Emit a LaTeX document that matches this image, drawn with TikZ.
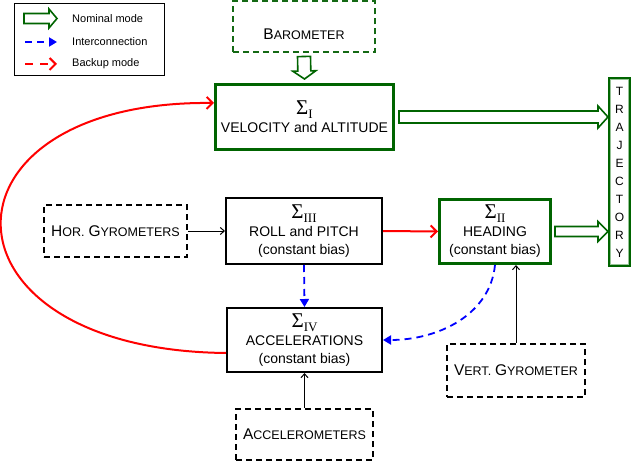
\documentclass[tikz,border=0pt]{standalone}
\usepackage{fontspec}
\setmainfont{Liberation Sans}
\newfontfamily\sigfont{Liberation Serif}
\usepackage{tikz}
\usetikzlibrary{calc,arrows.meta}

\definecolor{nomColor}{RGB}{0,100,0}
\definecolor{baroColor}{RGB}{20,105,20}
\definecolor{trajColor}{RGB}{150,195,150}

\newcommand{\sigmasub}[1]{{\sigfont\fontsize{21}{21}\selectfont Σ\raisebox{-4pt}{\fontsize{13}{13}\selectfont #1}}}
\newcommand{\capword}[2]{{\fontsize{15.5}{18}\selectfont #1}{\fontsize{12.5}{18}\selectfont #2}}
% hollow arrow: start, end, shaft half width, head half width, head length
\newcommand{\hollowarrow}[5]{%
  \path ($(#2)!#5!(#1)$) coordinate (hb);
  \draw[nomline] ($(#1)!#3!90:(#2)$) -- ($(hb)!#3!90:(#2)$) -- ($(hb)!#4!90:(#2)$) -- (#2)
    -- ($(hb)!#4!-90:(#2)$) -- ($(hb)!#3!-90:(#2)$) -- ($(#1)!#3!-90:(#2)$) -- cycle;}

\begin{document}
\begin{tikzpicture}[x=1pt,y=-1pt,
  box/.style={draw,rectangle,inner sep=0pt,align=center,font=\fontsize{14}{18}\selectfont},
  nombox/.style={box,draw=nomColor,line width=3pt},
  estbox/.style={box,line width=2pt},
  sensbox/.style={box,line width=1.8pt,dash pattern=on 6pt off 4pt},
  nomline/.style={draw=nomColor,line width=1.6pt,fill=white,line join=miter},
  inter/.style={blue,line width=1.8pt,dash pattern=on 7pt off 5pt,-{Triangle[length=8pt,width=9pt]}},
  backup/.style={red,line width=2pt,-{Straight Barb[length=6pt,width=12pt]}},
  meas/.style={black,line width=1pt,-{Straight Barb[length=4pt,width=7pt]}},
  legtext/.style={anchor=west,inner sep=0pt,font=\fontsize{11}{13}\selectfont}]
\useasboundingbox (0,0) rectangle (632,468);

% legend
\node[draw,line width=1pt,minimum width=150,minimum height=72,inner sep=0pt] (legend) at (89.5,39.5) {};
\node[legtext] (lnom) at (72,18.5) {Nominal mode};
\node[legtext] (lint) at (72,42) {Interconnection};
\node[legtext] (lbak) at (72,64) {Backup mode};
\coordinate (la1) at (24,18.5); \coordinate (lb1) at (57,18.5);
\coordinate (la2) at (25,42);   \coordinate (lb2) at (57,42);
\coordinate (la3) at (25,64);   \coordinate (lb3) at (57,64);
\hollowarrow{la1}{lb1}{5pt}{9.5pt}{8pt}
\draw[inter] (la2) -- (lb2);
\draw[backup,dash pattern=on 8pt off 7pt] (la3) -- (lb3);

% sensors
\node[sensbox,draw=baroColor,line width=2pt,minimum width=142,minimum height=51,text height=26pt,text depth=0pt] (baro) at (304,27) {\capword{B}{AROMETER}};
\node[sensbox,minimum width=143,minimum height=52] (hgyro) at (115.5,231) {\capword{H}{OR.} \capword{G}{YROMETERS}};
\node[sensbox,minimum width=138,minimum height=53] (vgyro) at (516,370.5) {\capword{V}{ERT.} \capword{G}{YROMETER}};
\node[sensbox,minimum width=137,minimum height=51] (accel) at (304.5,434.5) {\capword{A}{CCELEROMETERS}};

% estimators
\node[nombox,minimum width=178,minimum height=65] (sI) at (304.5,117) {\sigmasub{I}\\VELOCITY and ALTITUDE};
\node[estbox,minimum width=156,minimum height=66] (sIII) at (304,231) {\sigmasub{III}\\ROLL and PITCH\\(constant bias)};
\node[estbox,minimum width=155,minimum height=64] (sIV) at (304.5,340) {\sigmasub{IV}\\ACCELERATIONS\\(constant bias)};
\node[nombox,minimum width=111,minimum height=64] (sII) at (495,231.5) {\sigmasub{II}\\HEADING\\(constant bias)};
\node[draw=nomColor,line width=2pt,minimum width=21,minimum height=188,inner sep=0pt,
  align=center,font=\fontsize{12}{18}\selectfont] (traj) at (619.5,172) {T\\R\\A\\J\\E\\C\\T\\O\\R\\Y};
\draw[trajColor,line width=1pt] ([shift={(2.5pt,-2.5pt)}]traj.north west) rectangle ([shift={(-2.5pt,2.5pt)}]traj.south east);

% nominal mode
\coordinate (b0) at ([yshift=-3pt]baro.south);
\coordinate (b1) at ([yshift=4pt]sI.north);
\hollowarrow{b0}{b1}{6.5pt}{11.5pt}{8pt}
\coordinate (s1) at ([xshift=4pt]sI.east);
\coordinate (t1) at (traj.west |- sI.east);
\hollowarrow{s1}{t1}{6pt}{11pt}{10pt}
\coordinate (s2) at ([xshift=3pt]sII.east);
\coordinate (t2) at (traj.west |- sII.east);
\hollowarrow{s2}{t2}{5pt}{10pt}{10pt}

% measurements
\draw[meas] (hgyro.east) -- (sIII.west);
\draw[meas] (accel.north) -- (sIV.south);
\draw[meas] (vgyro.north) -- (vgyro.north |- sII.south);

% interconnections
\draw[inter] (sIII.south) -- (sIV.north);
\draw[inter] (sII.south) .. controls +(-5,50) and +(55,0) .. (sIV.east);

% backup mode
\draw[backup] (sIII.east) -- (sII.west);
\draw[backup] ([yshift=-13pt]sIV.west) .. controls (-72,350) and (-72,100) .. ([yshift=14pt]sI.west);
\end{tikzpicture}
\end{document}
